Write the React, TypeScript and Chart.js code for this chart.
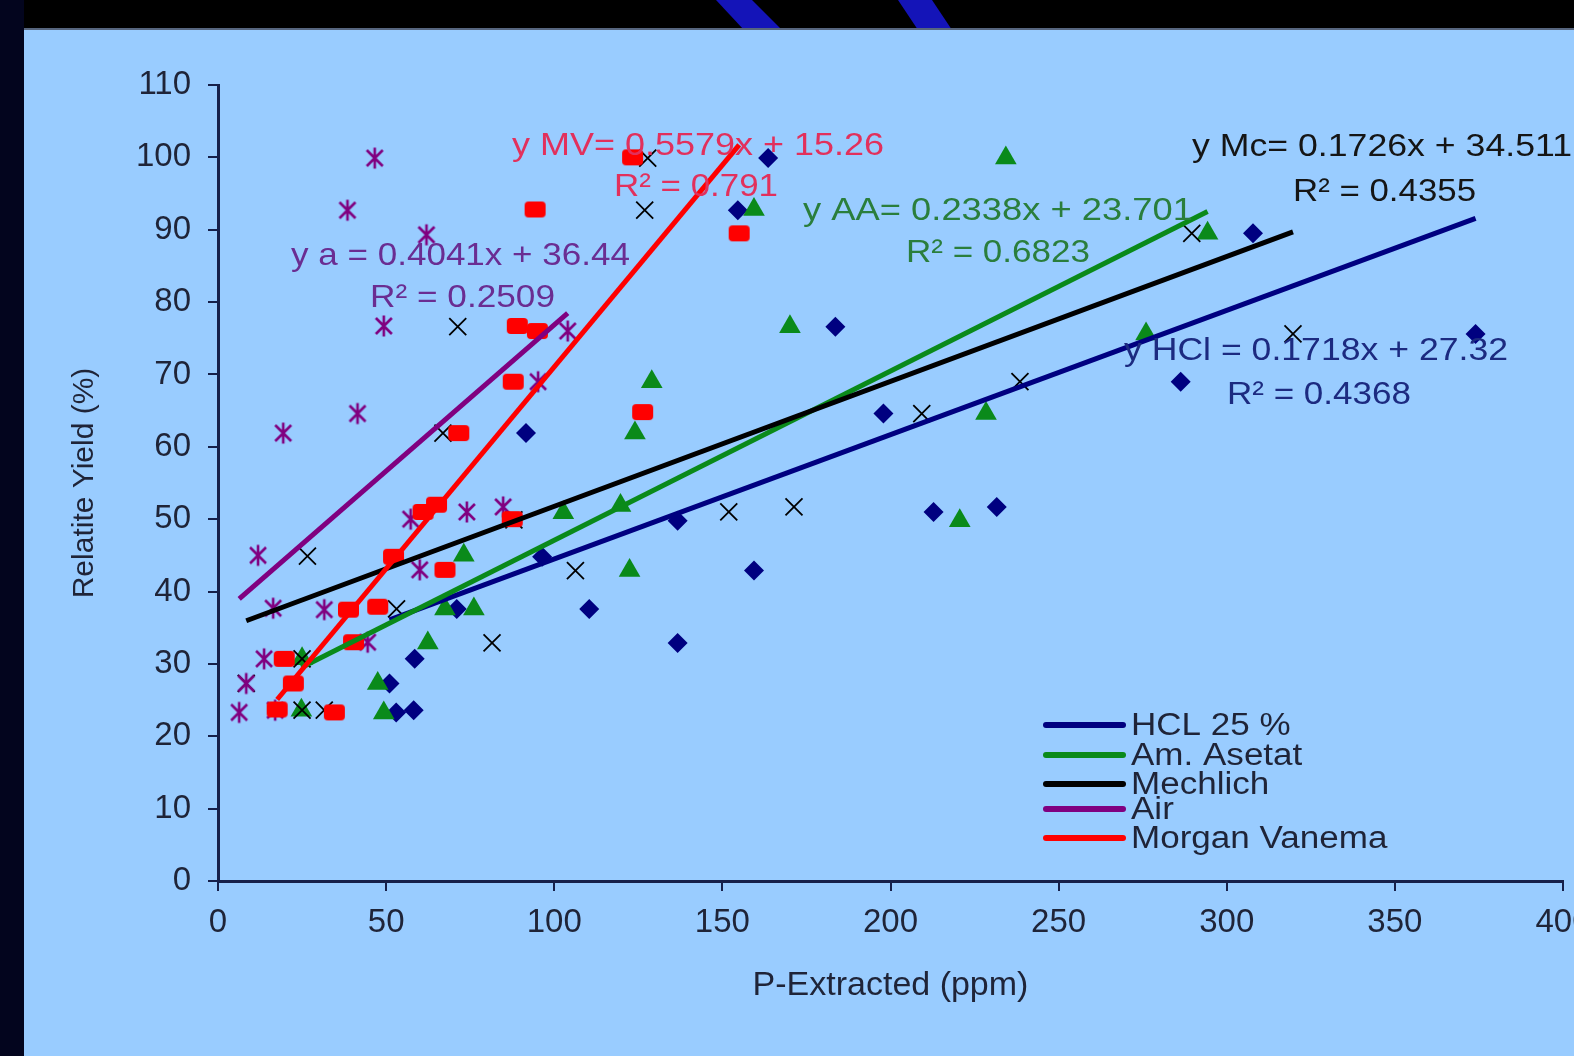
import React, { useEffect, useRef } from "react";
import { Chart, registerables } from "chart.js";

Chart.register(...registerables);

// ---- data ----
const seriesNames = ["HCL 25 %", "Am. Asetat", "Mechlich", "Air", "Morgan Vanema"];
const seriesColors = ["#000080", "#0a8a1a", "#000000", "#800080", "#ff0000"];

const hclX = [163.6, 154.6, 307.8, 183.6, 374, 286.3, 197.9, 91.6, 212.8, 231.6, 136.7, 96.4, 159.4, 110.4, 71, 136.7, 58.5, 51, 53, 58.2];
const hclY = [99.9, 92.7, 89.5, 76.6, 75.6, 69, 64.6, 61.9, 51, 51.7, 49.8, 44.8, 42.9, 37.6, 37.6, 32.9, 30.7, 27.3, 23.3, 23.6];

const aaX = [234.3, 159.4, 294.3, 170.1, 276, 129, 228.4, 124, 119.7, 102.7, 220.6, 73.1, 122.4, 67.5, 76.1, 62.4, 25, 47.5, 24.8, 49.3];
const aaY = [99.9, 92.8, 89.5, 76.6, 75.6, 69, 64.6, 61.9, 51.9, 50.9, 49.8, 45, 42.9, 37.6, 37.6, 32.9, 30.7, 27.3, 23.6, 23.2];

const mcX = [127.8, 126.9, 289.6, 71.3, 319.7, 238.5, 209.3, 66.9, 171.3, 151.9, 88, 26.6, 106.3, 53.1, 81.5, 25, 8.4, 25, 31.6];
const mcY = [99.9, 92.7, 89.5, 76.6, 75.6, 69, 64.6, 61.9, 51.7, 51, 49.9, 44.9, 42.9, 37.6, 32.9, 30.7, 27.3, 23.6, 23.6];

const airX = [46.6, 38.5, 62, 49.3, 104, 95.2, 41.5, 19.4, 84.8, 74, 57.3, 11.9, 60, 16.4, 31.6, 44.5, 13.7, 8.4, 6.3, 17];
const airY = [99.9, 92.7, 89.3, 76.7, 76, 69, 64.6, 61.9, 51.7, 51, 50, 45, 43, 37.7, 37.5, 33, 30.7, 27.3, 23.3, 23.6];

const mvX = [123.3, 94.3, 155, 89, 95, 87.8, 71.6, 126.3, 61, 65, 87.5, 52.2, 67.5, 38.8, 47.5, 40.3, 19.7, 22.4, 17.6, 34.6];
const mvY = [100, 92.8, 89.5, 76.7, 76, 69, 61.9, 64.8, 51, 52, 50, 44.8, 43, 37.5, 37.9, 33, 30.7, 27.3, 23.7, 23.3];

const trendSlopes = [0.1718, 0.2338, 0.1726, 0.4041, 0.5579];
const trendIntercepts = [27.32, 23.701, 34.511, 36.44, 15.26];
const equationLabels = [
  "y HCl = 0.1718x + 27.32",
  "y AA= 0.2338x + 23.701",
  "y Mc= 0.1726x + 34.511",
  "y a = 0.4041x + 36.44",
  "y MV= 0.5579x + 15.26",
];
const r2Labels = ["R² = 0.4368", "R² = 0.6823", "R² = 0.4355", "R² = 0.2509", "R² = 0.791"];

const xAxisTitle = "P-Extracted (ppm)";
const yAxisTitle = "Relatite Yield (%)";

// ---- styling ----
const FONT = "'Liberation Sans', Arial, sans-serif";
const axisColor = "#16204a";
const tickColor = "#1f2438";
const textColors = ["#1c2a80", "#2a7e3c", "#151515", "#6a2d92", "#e2305c"];

// annotation placement [eqX, eqCy, eqW, r2X, r2Cy, r2W]
const annotPlace = [
  [1124, 351, 384, 1227, 395, 184],
  [803, 211, 390, 906, 253, 184],
  [1192, 147, 380, 1293, 192, 183],
  [291, 256, 339, 370, 298, 185],
  [512, 146, 372, 614, 187, 164],
];

function makeAsterisk(color: string) {
  const c = document.createElement("canvas");
  c.width = 24;
  c.height = 24;
  const g = c.getContext("2d")!;
  g.strokeStyle = color;
  g.lineWidth = 2.6;
  g.beginPath();
  g.moveTo(4, 4);
  g.lineTo(20, 20);
  g.moveTo(20, 4);
  g.lineTo(4, 20);
  g.moveTo(12, 1.5);
  g.lineTo(12, 22.5);
  g.stroke();
  return c;
}

function makeSquare(color: string) {
  const c = document.createElement("canvas");
  c.width = 23;
  c.height = 18;
  const g = c.getContext("2d")!;
  g.fillStyle = color;
  g.beginPath();
  (g as any).roundRect(1, 1, 21, 16, 4);
  g.fill();
  return c;
}

export default function App() {
  const ref = useRef<HTMLCanvasElement>(null);

  useEffect(() => {
    document.body.style.margin = "0";
    const xs = [hclX, aaX, mcX, airX, mvX];
    const ys = [hclY, aaY, mcY, airY, mvY];
    const styles: any[] = ["rectRot", "triangle", "crossRot", makeAsterisk(seriesColors[3]), makeSquare(seriesColors[4])];
    const radii = [10, 12.5, 12, 12, 11];
    const scatterOrder = [5, 4, 3, 2, 1];

    const datasets: any[] = [];
    for (let i = 0; i < 5; i++) {
      datasets.push({
        type: "scatter",
        label: seriesNames[i],
        data: xs[i].map((x, j) => ({ x, y: ys[i][j] })),
        pointStyle: styles[i],
        pointRadius: radii[i],
        pointHoverRadius: radii[i],
        backgroundColor: seriesColors[i],
        borderColor: seriesColors[i],
        borderWidth: i === 2 ? 1.8 : 0,
        order: scatterOrder[i],
      });
    }
    for (let i = 4; i >= 0; i--) {
      const minX = Math.min(...xs[i]);
      const maxX = Math.max(...xs[i]);
      datasets.push({
        type: "line",
        label: seriesNames[i] + " trend",
        data: [
          { x: minX, y: trendSlopes[i] * minX + trendIntercepts[i] },
          { x: maxX, y: trendSlopes[i] * maxX + trendIntercepts[i] },
        ],
        borderColor: seriesColors[i],
        borderWidth: 5,
        pointRadius: 0,
        fill: false,
        order: 0,
      });
    }

    const overlay = {
      id: "overlay",
      afterDatasetsDraw(chart: any) {
        const ctx = chart.ctx as CanvasRenderingContext2D;
        ctx.save();
        // annotations
        ctx.textBaseline = "middle";
        ctx.textAlign = "left";
        ctx.font = `32px ${FONT}`;
        for (let i = 0; i < 5; i++) {
          const p = annotPlace[i];
          const draw = (t: string, x: number, cy: number, w: number) => {
            const m = ctx.measureText(t).width;
            ctx.save();
            ctx.translate(x, cy);
            ctx.scale(w / m, 1);
            ctx.fillStyle = textColors[i];
            ctx.fillText(t, 0, 0);
            ctx.restore();
          };
          draw(equationLabels[i], p[0], p[1], p[2]);
          draw(r2Labels[i], p[3], p[4], p[5]);
        }
        // legend
        const legY = [725, 755, 784, 809, 838];
        ctx.lineCap = "round";
        ctx.lineWidth = 6;
        ctx.font = `31px ${FONT}`;
        for (let i = 0; i < 5; i++) {
          ctx.strokeStyle = seriesColors[i];
          ctx.beginPath();
          ctx.moveTo(1046, legY[i]);
          ctx.lineTo(1123, legY[i]);
          ctx.stroke();
          ctx.save();
          ctx.translate(1131, legY[i] + 1);
          ctx.scale(1.13, 1);
          ctx.fillStyle = tickColor;
          ctx.fillText(seriesNames[i], 0, 0);
          ctx.restore();
        }
        ctx.restore();
      },
    };

    const chart = new Chart(ref.current!, {
      type: "scatter",
      data: { datasets },
      plugins: [overlay],
      options: {
        responsive: false,
        animation: false,
        devicePixelRatio: 1,
        events: [],
        layout: { padding: { top: 85, right: 57, left: 0, bottom: 0 } },
        plugins: { legend: { display: false }, tooltip: { enabled: false } },
        scales: {
          x: {
            type: "linear",
            min: 0,
            max: 400,
            ticks: {
              stepSize: 50,
              autoSkip: false,
              maxRotation: 0,
              padding: 12,
              color: tickColor,
              font: { family: FONT, size: 33 },
            },
            grid: { drawOnChartArea: false, tickLength: 10, color: axisColor, lineWidth: 2 },
            border: { color: axisColor, width: 3 },
            title: {
              display: true,
              text: xAxisTitle,
              color: tickColor,
              font: { family: FONT, size: 34 },
              padding: { top: 0, bottom: 50 },
            },
            afterFit: (s: any) => {
              s.height = 175;
            },
          },
          y: {
            type: "linear",
            min: 0,
            max: 110,
            ticks: {
              stepSize: 10,
              autoSkip: false,
              padding: 17,
              color: tickColor,
              font: { family: FONT, size: 33 },
            },
            grid: { drawOnChartArea: false, tickLength: 10, color: axisColor, lineWidth: 2 },
            border: { color: axisColor, width: 3 },
            title: {
              display: true,
              text: yAxisTitle,
              color: tickColor,
              font: { family: FONT, size: 30 },
              padding: { top: 67, bottom: 0 },
            },
            afterFit: (s: any) => {
              s.width = 218;
            },
          },
        },
      } as any,
    } as any);
    return () => chart.destroy();
  }, []);

  return (
    <div
      style={{
        position: "fixed",
        left: 0,
        top: 0,
        width: 1574,
        height: 1056,
        overflow: "hidden",
        background: "#000000",
      }}
    >
      <div style={{ position: "absolute", left: 0, top: 0, width: 24, height: 1056, background: "#03051e" }} />
      <div
        style={{
          position: "absolute",
          left: 0,
          top: 0,
          width: 1574,
          height: 30,
          background: "#1414b8",
          clipPath: "polygon(716px 0, 752px 0, 782px 30px, 744px 30px)",
        }}
      />
      <div
        style={{
          position: "absolute",
          left: 0,
          top: 0,
          width: 1574,
          height: 30,
          background: "#1414b8",
          clipPath: "polygon(898px 0, 932px 0, 952px 30px, 918px 30px)",
        }}
      />
      <div
        style={{
          position: "absolute",
          left: 24,
          top: 28,
          width: 1550,
          height: 1028,
          background: "#99ccff",
          borderTop: "2px solid #56657e",
          boxSizing: "border-box",
        }}
      />
      <canvas
        ref={ref}
        width={1620}
        height={1056}
        style={{ position: "absolute", left: 0, top: 0, width: 1620, height: 1056 }}
      />
    </div>
  );
}
